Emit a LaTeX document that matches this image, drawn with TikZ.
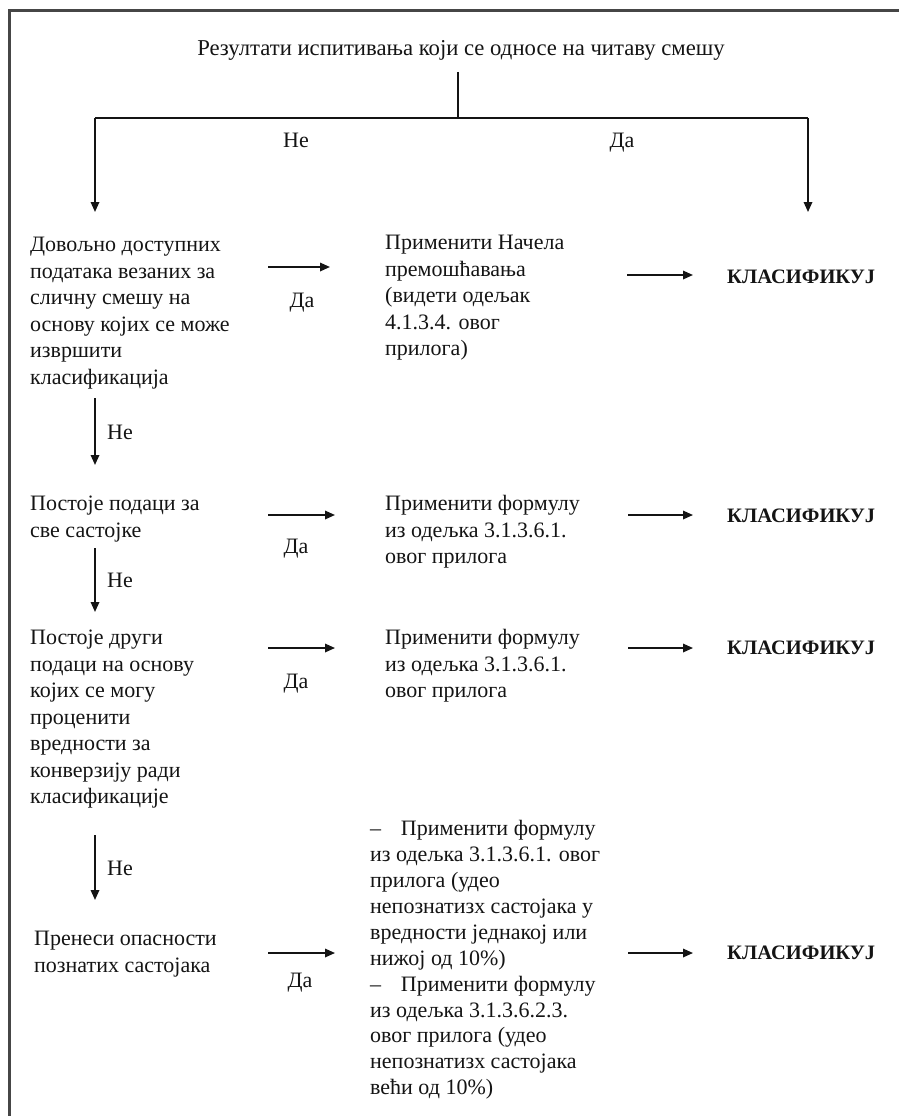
\documentclass[tikz,border=0pt]{standalone}
\usepackage{fontspec}
\setmainfont{Liberation Serif}
\usetikzlibrary{arrows.meta}
\definecolor{ink}{RGB}{20,20,20}
\definecolor{frame}{RGB}{70,70,70}
\newcommand{\fst}{\rule{0pt}{15.5pt}}
\begin{document}
\begin{tikzpicture}[x=1pt,y=-1pt,
  txt/.style={inner sep=0pt, anchor=north west, align=left, text=ink,
    font=\fontsize{22}{26.5}\selectfont},
  txtb/.style={txt, font=\fontsize{22}{25.9}\selectfont},
  lbl/.style={inner sep=0pt, text=ink, font=\fontsize{22}{25}\selectfont},
  ttl/.style={inner sep=0pt, text=ink, font=\fontsize{22.7}{26}\selectfont},
  cls/.style={inner sep=0pt, anchor=west, text=ink, font=\fontsize{20.5}{24}\selectfont\bfseries},
  ln/.style={line width=1.7pt, draw=ink},
  arr/.style={ln, -{Triangle[length=10pt,width=8.5pt]}}]
\useasboundingbox (0,0) rectangle (899,1116);
% frame
\draw[line width=3pt, draw=frame] (9,1116) -- (9,10.5) -- (899,10.5);

% title and split
\node[ttl, anchor=base] (title) at (461,56) {Резултати испитивања који се односе на читаву смешу};
\coordinate (stem) at (458,72);
\coordinate (split) at (458,118);
\coordinate (lft) at (95,118);
\coordinate (rgt) at (808,118);
\coordinate (lftend) at (95,212);
\coordinate (rgtend) at (808,212);
\draw[ln] (stem) -- (split);
\draw[ln] (lft) -- (rgt);
\draw[arr] (lft) -- (lftend);
\draw[arr] (rgt) -- (rgtend);
\node[lbl, anchor=base] (ne0) at (296,147) {Не};
\node[lbl, anchor=base] (da0) at (622,147) {Да};

% row 1
\node[txt] (q1) at (30,236) {\fst Довољно доступних\\ података везаних за\\ сличну смешу на\\ основу којих се може\\ извршити\\ класификација};
\node[txt] (m1) at (385,234) {\fst Применити Начела\\ премошћавања\\ (видети одељак\\ 4.1.3.4. овог\\ прилога)};
\node[cls] (c1) at (727,277) {КЛАСИФИКУЈ};
\coordinate (a1s) at (268,267); \coordinate (a1e) at (330,267);
\coordinate (b1s) at (627,275); \coordinate (b1e) at (693,275);
\draw[arr] (a1s) -- (a1e);
\draw[arr] (b1s) -- (b1e);
\node[lbl, anchor=base] (da1) at (302,307) {Да};

% down 1
\coordinate (d1s) at (95,398); \coordinate (d1e) at (95,465);
\draw[arr] (d1s) -- (d1e);
\node[lbl, anchor=base west] (ne1) at (107,439) {Не};

% row 2
\node[txt] (q2) at (30,495) {\fst Постоје подаци за\\ све састојке};
\node[txt] (m2) at (385,495) {\fst Применити формулу\\ из одељка 3.1.3.6.1.\\ овог прилога};
\node[cls] (c2) at (727,516) {КЛАСИФИКУЈ};
\coordinate (a2s) at (268,515); \coordinate (a2e) at (335,515);
\coordinate (b2s) at (628,515); \coordinate (b2e) at (693,515);
\draw[arr] (a2s) -- (a2e);
\draw[arr] (b2s) -- (b2e);
\node[lbl, anchor=base] (da2) at (296,553) {Да};

% down 2
\coordinate (d2s) at (95,548); \coordinate (d2e) at (95,612);
\draw[arr] (d2s) -- (d2e);
\node[lbl, anchor=base west] (ne2) at (107,587) {Не};

% row 3
\node[txt] (q3) at (30,629) {\fst Постоје други\\ подаци на основу\\ којих се могу\\ проценити\\ вредности за\\ конверзију ради\\ класификације};
\node[txt] (m3) at (385,629) {\fst Применити формулу\\ из одељка 3.1.3.6.1.\\ овог прилога};
\node[cls] (c3) at (727,648) {КЛАСИФИКУЈ};
\coordinate (a3s) at (268,648); \coordinate (a3e) at (335,648);
\coordinate (b3s) at (628,648); \coordinate (b3e) at (693,648);
\draw[arr] (a3s) -- (a3e);
\draw[arr] (b3s) -- (b3e);
\node[lbl, anchor=base] (da3) at (296,688) {Да};

% down 3
\coordinate (d3s) at (95,835); \coordinate (d3e) at (95,900);
\draw[arr] (d3s) -- (d3e);
\node[lbl, anchor=base west] (ne3) at (107,875) {Не};

% row 4
\node[txt] (q4) at (34,930) {\fst Пренеси опасности\\ познатих састојака};
\node[txtb] (m4) at (370,820) {\fst –\hspace{0.9em}Применити формулу\\ из одељка 3.1.3.6.1. овог\\ прилога (удео\\ непознатизх састојака у\\ вредности једнакој или\\ нижој од 10\%)\\ –\hspace{0.9em}Применити формулу\\ из одељка 3.1.3.6.2.3.\\ овог прилога (удео\\ непознатизх састојака\\ већи од 10\%)};
\node[cls] (c4) at (727,953) {КЛАСИФИКУЈ};
\coordinate (a4s) at (268,953); \coordinate (a4e) at (335,953);
\coordinate (b4s) at (628,953); \coordinate (b4e) at (693,953);
\draw[arr] (a4s) -- (a4e);
\draw[arr] (b4s) -- (b4e);
\node[lbl, anchor=base] (da4) at (300,987) {Да};
\end{tikzpicture}
\end{document}
